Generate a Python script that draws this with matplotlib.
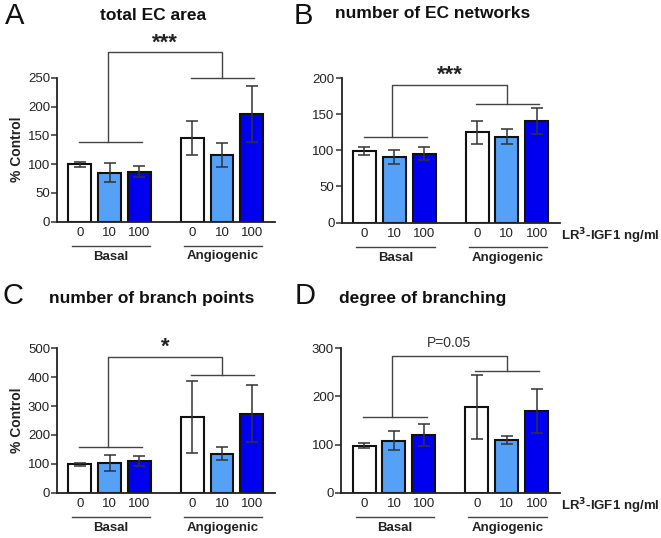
import matplotlib
matplotlib.use("Agg")
import matplotlib.pyplot as plt
import matplotlib.transforms as mtransforms

plt.rcParams['font.family'] = ['Liberation Sans', 'DejaVu Sans']

# ---------------- data ----------------
doses = ["0", "10", "100"]
groups = ["Basal", "Angiogenic"]
unit_label = "LR$^{\\mathbf{3}}$-IGF1 ng/ml"

a_title = "total EC area"
a_means = [100, 85, 87, 145, 116, 187]
a_sem = [4.5, 17, 10, 30, 20.5, 48.5]
a_yticks = [0, 50, 100, 150, 200, 250]
a_sig = "***"
a_levels = [138.6, 250, 295]

b_title = "number of EC networks"
b_means = [99, 91, 95, 125, 119, 141]
b_sem = [5, 9.5, 9, 16, 11, 18]
b_yticks = [0, 50, 100, 150, 200]
b_sig = "***"
b_levels = [118.6, 164, 191]

c_title = "number of branch points"
c_means = [98, 103, 109, 262, 135, 274]
c_sem = [6.5, 26.5, 17, 125, 23, 99]
c_yticks = [0, 100, 200, 300, 400, 500]
c_sig = "*"
c_levels = [157, 406, 471]

d_title = "degree of branching"
d_means = [98, 108, 120, 178, 110, 170]
d_sem = [4.5, 20, 23, 66, 8, 45]
d_yticks = [0, 100, 200, 300]
d_sig = "P=0.05"
d_levels = [157, 253, 283]

panel_letters = ["A", "B", "C", "D"]

# ---------------- style ----------------
bar_colors = ["#ffffff", "#55a1f7", "#0000f0"]
positions = [0, 1, 2, 3.77, 4.77, 5.77]
text_col = "#222222"
line_col = "#444444"

W, H = 661, 538
fig = plt.figure(figsize=(W / 100, H / 100), dpi=100)


def px_axes(l, t, r, b):
    return fig.add_axes([l / W, 1 - b / H, (r - l) / W, (b - t) / H])


def draw_panel(ax, means, sem, yticks, sig, levels, ylabel, unit):
    cols = bar_colors * 2
    ax.bar(positions, means, width=0.77, color=cols, edgecolor="#111111",
           linewidth=1.5, zorder=2)
    ax.errorbar(positions, means, yerr=sem, fmt="none", ecolor="#333333",
                elinewidth=1.1, capsize=4, capthick=1.1, zorder=3)
    ax.set_xlim(-0.77, 6.55)
    ax.set_ylim(0, yticks[-1])
    ax.set_yticks(yticks)
    ax.set_yticklabels([str(v) for v in yticks])
    ax.set_xticks(positions)
    ax.set_xticklabels(doses * 2)
    ax.tick_params(axis="x", length=0, pad=4, labelsize=9.5, labelcolor=text_col)
    ax.tick_params(axis="y", length=4, width=1.1, direction="out", pad=1,
                   labelsize=9.5, labelcolor=text_col, color="#333333")
    for s in ["top", "right"]:
        ax.spines[s].set_visible(False)
    for s in ["left", "bottom"]:
        ax.spines[s].set_linewidth(1.3)
        ax.spines[s].set_color("#222222")
    if ylabel:
        ax.set_ylabel("% Control", fontsize=10, fontweight="bold",
                      color=text_col, labelpad=3)

    # group underlines and labels
    tr = mtransforms.blended_transform_factory(ax.transData, ax.transAxes)
    hpx = ax.get_position().height * H
    for gi, g in enumerate(groups):
        x0 = positions[gi * 3]
        x2 = positions[gi * 3 + 2]
        ax.plot([x0 - 0.28, x2 + 0.35], [-24 / hpx, -24 / hpx], transform=tr,
                color=line_col, lw=1.0, clip_on=False)
        ax.text((x0 + x2) / 2 + 0.04, -35 / hpx, g, transform=tr, ha="center",
                va="center", fontsize=9.5, fontweight="bold", color=text_col)
    if unit:
        ax.text(6.6, -14 / hpx, unit, transform=tr, ha="left", va="center",
                fontsize=9.5, fontweight="bold", color=text_col)

    # significance bracket
    lb, la, lt = levels
    kw = dict(color=line_col, lw=1.0, clip_on=False)
    ax.plot([positions[0] - 0.03, positions[2] + 0.1], [lb, lb], **kw)
    ax.plot([positions[3] - 0.05, positions[5] + 0.08], [la, la], **kw)
    xl, xr = 0.93, 4.77
    ax.plot([xl, xl, xr, xr], [lb, lt, lt, la], **kw)
    if sig.startswith("P"):
        ax.annotate(sig, xy=((xl + xr) / 2, lt), xytext=(0, 5),
                    textcoords="offset points", ha="center", va="bottom",
                    fontsize=10, color="#333333", annotation_clip=False)
    else:
        ax.annotate(sig, xy=((xl + xr) / 2, lt), xytext=(0, -1),
                    textcoords="offset points", ha="center", va="bottom",
                    fontsize=16, fontweight="bold", color="#222222",
                    annotation_clip=False)


axA = px_axes(57, 78, 275, 221.5)
axB = px_axes(341.5, 78, 560, 222.5)
axC = px_axes(57, 348.3, 275, 492.7)
axD = px_axes(341, 348.3, 560, 492.7)

draw_panel(axA, a_means, a_sem, a_yticks, a_sig, a_levels, True, None)
draw_panel(axB, b_means, b_sem, b_yticks, b_sig, b_levels, False, unit_label)
draw_panel(axC, c_means, c_sem, c_yticks, c_sig, c_levels, True, None)
draw_panel(axD, d_means, d_sem, d_yticks, d_sig, d_levels, False, unit_label)

# titles and letters (pixel placement)
def ftext(x, y, s, **kw):
    fig.text(x / W, 1 - y / H, s, **kw)

title_kw = dict(ha="center", va="center", fontsize=12.5, fontweight="bold", color="#111111")
ftext(153, 15, a_title, **title_kw)
ftext(433, 14, b_title, **title_kw)
ftext(152, 299, c_title, **title_kw)
ftext(423, 299, d_title, **title_kw)

letter_kw = dict(ha="center", va="center", fontsize=21, color="#111111")
ftext(15, 16, panel_letters[0], **letter_kw)
ftext(303, 16, panel_letters[1], **letter_kw)
ftext(13, 296, panel_letters[2], **letter_kw)
ftext(305, 296, panel_letters[3], **letter_kw)

fig.savefig("out.png", dpi=100)
